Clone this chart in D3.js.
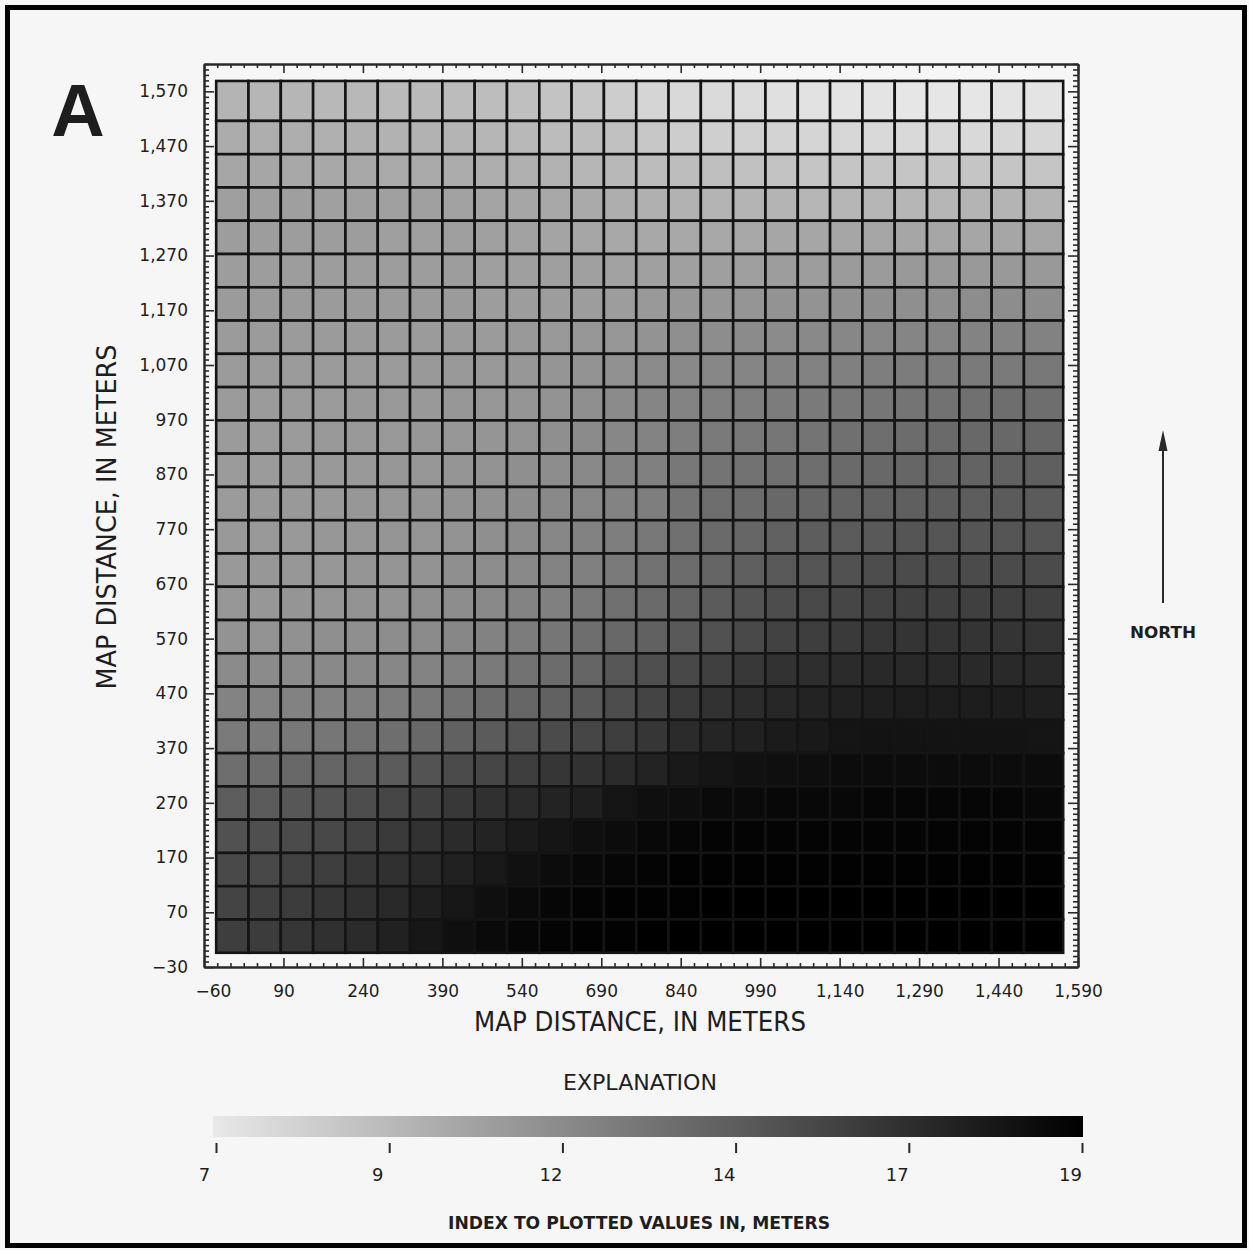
<!DOCTYPE html>
<html>
<head>
<meta charset="utf-8">
<script src="https://cdn.jsdelivr.net/npm/d3@7"></script>
<style>
  html, body { margin: 0; padding: 0; background: #f6f6f6; }
  svg { display: block; }
  text { font-family: "DejaVu Sans", "Liberation Sans", sans-serif; fill: #1e1e1e; }
</style>
</head>
<body>
<svg id="chart" width="1249" height="1250"></svg>
<script>
// ---------------- DATA ----------------
// Axis tick values (meters)
const xTickValues = [-60, 90, 240, 390, 540, 690, 840, 990, 1140, 1290, 1440, 1590];
const yTickValues = [-30, 70, 170, 270, 370, 470, 570, 670, 770, 870, 970, 1070, 1170, 1270, 1370, 1470, 1570];
// Colour index (explanation) ticks and their printed labels
const legendTickValues = [7, 9.4, 11.8, 14.2, 16.6, 19];
const legendTickLabels = ["7", "9", "12", "14", "17", "19"];
const valueDomain = [7, 19];

// Grid geometry in map meters
const gridWest = -37, cellWidth = 61, gridEast = 1562;
const gridSouth = -4, cellHeight = 60.8, gridNorth = 1589;

// Plotted values in meters; rows from north (top) to south, columns west to east
const cellValues = [
  [9.7,9.6,9.6,9.5,9.5,9.4,9.4,9.3,9.2,9.1,8.9,8.7,8.4,8.0,7.8,7.7,7.6,7.4,7.3,7.2,7.2,7.1,7.1,7.1,7.2,7.2],
  [10.1,10.0,10.0,9.9,9.9,9.8,9.8,9.7,9.6,9.5,9.3,9.2,9.0,8.7,8.4,8.3,8.2,8.1,8.0,7.9,7.8,7.8,7.8,7.8,7.9,7.9],
  [10.4,10.4,10.3,10.3,10.3,10.2,10.2,10.1,10.0,9.9,9.8,9.6,9.5,9.3,9.2,9.1,9.0,8.9,8.8,8.8,8.8,8.8,8.8,8.8,8.8,8.8],
  [10.8,10.8,10.8,10.7,10.7,10.7,10.7,10.6,10.5,10.4,10.3,10.2,10.0,9.9,9.8,9.7,9.7,9.7,9.6,9.6,9.6,9.6,9.6,9.7,9.7,9.7],
  [10.9,10.9,10.9,10.9,10.9,10.8,10.8,10.8,10.7,10.6,10.5,10.4,10.3,10.3,10.3,10.3,10.3,10.4,10.4,10.4,10.4,10.4,10.4,10.4,10.4,10.4],
  [10.9,10.9,10.9,10.9,10.9,10.9,10.9,10.9,10.8,10.8,10.8,10.7,10.6,10.7,10.7,10.8,10.8,10.9,10.9,11.0,11.0,11.1,11.1,11.1,11.1,11.1],
  [11.0,11.0,11.0,11.0,11.0,11.0,11.0,11.0,10.9,10.9,10.9,10.9,10.9,11.1,11.2,11.2,11.3,11.4,11.4,11.5,11.6,11.6,11.6,11.7,11.7,11.7],
  [11.0,11.0,11.0,11.0,11.0,11.0,11.0,11.0,11.0,11.1,11.1,11.2,11.2,11.4,11.6,11.7,11.8,11.8,11.9,12.0,12.0,12.1,12.1,12.2,12.2,12.3],
  [11.0,11.0,11.0,11.0,11.0,11.0,11.1,11.1,11.1,11.2,11.3,11.4,11.5,11.8,11.9,12.0,12.1,12.2,12.3,12.4,12.5,12.6,12.6,12.7,12.7,12.8],
  [11.0,11.0,11.0,11.0,11.1,11.1,11.1,11.2,11.2,11.3,11.4,11.6,11.8,12.1,12.2,12.4,12.5,12.6,12.7,12.8,12.9,13.0,13.1,13.2,13.3,13.3],
  [11.0,11.0,11.0,11.1,11.1,11.1,11.2,11.2,11.3,11.4,11.6,11.8,12.0,12.2,12.5,12.7,12.8,12.9,13.0,13.2,13.3,13.4,13.5,13.6,13.6,13.7],
  [11.0,11.0,11.1,11.1,11.1,11.2,11.2,11.3,11.4,11.6,11.7,11.9,12.2,12.4,12.8,13.0,13.1,13.2,13.3,13.5,13.6,13.7,13.8,13.9,14.0,14.1],
  [11.0,11.1,11.1,11.1,11.2,11.2,11.3,11.4,11.5,11.7,11.9,12.0,12.2,12.5,13.0,13.3,13.4,13.6,13.7,13.9,14.0,14.1,14.2,14.2,14.3,14.3],
  [11.1,11.1,11.1,11.2,11.2,11.3,11.3,11.4,11.6,11.8,12.0,12.3,12.5,12.8,13.2,13.5,13.7,14.0,14.2,14.3,14.4,14.6,14.6,14.6,14.6,14.6],
  [11.1,11.2,11.2,11.2,11.3,11.3,11.4,11.6,11.7,11.9,12.2,12.4,12.7,13.1,13.4,13.8,14.1,14.4,14.6,14.8,15.0,15.1,15.1,15.1,15.1,15.1],
  [11.2,11.2,11.3,11.3,11.4,11.4,11.6,11.7,11.9,12.2,12.4,12.8,13.2,13.5,13.9,14.3,14.7,15.0,15.2,15.4,15.6,15.7,15.7,15.7,15.7,15.7],
  [11.4,11.4,11.5,11.6,11.6,11.7,11.8,12.0,12.3,12.6,12.9,13.3,13.6,14.0,14.4,14.8,15.2,15.6,15.8,16.0,16.2,16.3,16.3,16.3,16.3,16.3],
  [11.8,11.8,11.8,11.9,11.9,12.0,12.2,12.4,12.7,13.1,13.4,13.8,14.5,14.9,15.3,15.7,16.1,16.4,16.6,16.8,16.9,16.9,16.9,16.9,16.9,16.9],
  [12.2,12.2,12.3,12.3,12.4,12.6,12.8,13.1,13.4,13.7,14.0,14.4,15.0,15.5,16.0,16.4,16.7,17.0,17.2,17.3,17.4,17.5,17.5,17.5,17.5,17.4],
  [12.7,12.7,12.8,12.9,13.1,13.3,13.6,14.0,14.3,14.7,15.1,15.4,15.8,16.2,16.8,17.1,17.3,17.6,17.7,17.9,18.0,18.0,18.0,18.0,18.0,17.9],
  [13.3,13.4,13.6,13.8,14.0,14.3,14.7,15.1,15.4,15.8,16.2,16.4,16.8,17.2,17.7,17.9,18.1,18.2,18.3,18.4,18.4,18.4,18.4,18.4,18.4,18.4],
  [14.2,14.3,14.5,14.7,15.0,15.4,15.7,16.1,16.5,16.8,17.2,17.4,17.9,18.2,18.3,18.5,18.5,18.6,18.6,18.6,18.7,18.7,18.7,18.7,18.7,18.6],
  [14.8,14.9,15.1,15.3,15.6,16.0,16.4,16.8,17.2,17.6,17.9,18.2,18.4,18.6,18.7,18.8,18.8,18.8,18.8,18.8,18.8,18.8,18.8,18.8,18.8,18.8],
  [15.2,15.3,15.6,15.8,16.2,16.5,16.9,17.3,17.7,18.1,18.4,18.6,18.7,18.8,18.9,18.9,18.9,18.9,18.9,18.9,18.9,18.9,18.9,18.9,18.9,18.9],
  [15.5,15.7,15.9,16.2,16.5,16.9,17.4,17.8,18.2,18.5,18.7,18.8,18.9,18.9,18.9,19.0,19.0,19.0,19.0,19.0,19.0,19.0,19.0,19.0,19.0,19.0],
  [15.8,15.9,16.2,16.5,16.8,17.3,17.8,18.2,18.5,18.7,18.8,18.9,18.9,19.0,19.0,19.0,19.0,19.0,19.0,19.0,19.0,19.0,19.0,19.0,19.0,19.0]
];

// ---------------- CHART ----------------
const svg = d3.select("#chart");
const W = 1249, H = 1250;

svg.append("rect").attr("width", W).attr("height", H).attr("fill", "#f6f6f6");
svg.append("rect").attr("x", 7.5).attr("y", 7.5).attr("width", W - 12).attr("height", H - 12)
  .attr("fill", "none").attr("stroke", "#000").attr("stroke-width", 5);

const x = d3.scaleLinear().domain([-60, 1590]).range([204, 1078]);
const y = d3.scaleLinear().domain([-30, 1620]).range([967, 64]);
const color = d3.scaleLinear().domain(valueDomain).range(["#e8e8e8", "#000000"]).clamp(true);

// Cells
const nRows = cellValues.length;
const cells = [];
cellValues.forEach((row, r) => {
  const k = nRows - 1 - r; // index from south
  const y0 = gridSouth + k * cellHeight;
  const y1 = (r === 0) ? gridNorth : gridSouth + (k + 1) * cellHeight;
  row.forEach((v, c) => {
    const x0 = gridWest + c * cellWidth;
    const x1 = (c === row.length - 1) ? gridEast : gridWest + (c + 1) * cellWidth;
    cells.push({ v, x0, x1, y0, y1 });
  });
});

svg.append("g").selectAll("rect").data(cells).join("rect")
  .attr("x", d => x(d.x0))
  .attr("y", d => y(d.y1))
  .attr("width", d => x(d.x1) - x(d.x0))
  .attr("height", d => y(d.y0) - y(d.y1))
  .attr("fill", d => color(d.v))
  .attr("stroke", "#141414")
  .attr("stroke-width", 2.6);

// Axes frame with inward ticks
const fmt = d3.format(",");
const xMinor = d3.range(-60, 1591, 25).filter(v => !xTickValues.includes(v));
const yMinor = d3.range(-30, 1621, 10).filter(v => !yTickValues.includes(v));

function styleAxis(g) {
  g.selectAll("path.domain").attr("stroke", "#2a2a2a").attr("stroke-width", 2);
  g.selectAll(".tick line").attr("stroke", "#2a2a2a").attr("stroke-width", 1.6);
}

// bottom
svg.append("g").attr("transform", `translate(0,${y(-30)})`)
  .call(d3.axisTop(x).tickValues(xTickValues).tickSize(9).tickSizeOuter(0).tickFormat(""))
  .call(styleAxis);
svg.append("g").attr("transform", `translate(0,${y(-30)})`)
  .call(d3.axisTop(x).tickValues(xMinor).tickSize(4).tickSizeOuter(0).tickFormat(""))
  .call(styleAxis);
// top
svg.append("g").attr("transform", `translate(0,${y(1620)})`)
  .call(d3.axisBottom(x).tickValues(xTickValues).tickSize(9).tickSizeOuter(0).tickFormat(""))
  .call(styleAxis);
svg.append("g").attr("transform", `translate(0,${y(1620)})`)
  .call(d3.axisBottom(x).tickValues(xMinor).tickSize(4).tickSizeOuter(0).tickFormat(""))
  .call(styleAxis);
// left
svg.append("g").attr("transform", `translate(${x(-60)},0)`)
  .call(d3.axisRight(y).tickValues(yTickValues).tickSize(10).tickSizeOuter(0).tickFormat(""))
  .call(styleAxis);
svg.append("g").attr("transform", `translate(${x(-60)},0)`)
  .call(d3.axisRight(y).tickValues(yMinor).tickSize(5).tickSizeOuter(0).tickFormat(""))
  .call(styleAxis);
// right
svg.append("g").attr("transform", `translate(${x(1590)},0)`)
  .call(d3.axisLeft(y).tickValues(yTickValues).tickSize(10).tickSizeOuter(0).tickFormat(""))
  .call(styleAxis);
svg.append("g").attr("transform", `translate(${x(1590)},0)`)
  .call(d3.axisLeft(y).tickValues(yMinor).tickSize(5).tickSizeOuter(0).tickFormat(""))
  .call(styleAxis);

// tick labels
const xLab = svg.append("g").attr("transform", `translate(0,${y(-30)})`)
  .call(d3.axisBottom(x).tickValues(xTickValues).tickSize(0).tickPadding(18).tickFormat(fmt));
xLab.select("path.domain").remove();
xLab.selectAll("text").attr("font-size", 17).attr("fill", "#1e1e1e")
  .attr("dx", d => d < 0 ? 9 : 0)
  .style("font-family", '"DejaVu Sans", sans-serif');

const yLab = svg.append("g").attr("transform", `translate(${x(-60)},0)`)
  .call(d3.axisLeft(y).tickValues(yTickValues).tickSize(0).tickPadding(16).tickFormat(fmt));
yLab.select("path.domain").remove();
yLab.selectAll("text").attr("font-size", 17).attr("fill", "#1e1e1e")
  .style("font-family", '"DejaVu Sans", sans-serif');

// Axis titles
svg.append("text").attr("x", 640).attr("y", 1031).attr("text-anchor", "middle")
  .attr("font-size", 26).attr("textLength", 332).attr("lengthAdjust", "spacingAndGlyphs")
  .text("MAP DISTANCE, IN METERS");
svg.append("text").attr("transform", "translate(116,517) rotate(-90)").attr("text-anchor", "middle")
  .attr("font-size", 26).attr("textLength", 345).attr("lengthAdjust", "spacingAndGlyphs")
  .text("MAP DISTANCE, IN METERS");

// Panel letter
svg.append("text").attr("x", 78).attr("y", 136).attr("text-anchor", "middle")
  .attr("font-size", 74).attr("font-weight", "bold")
  .style("font-family", '"Liberation Sans", Arial, sans-serif').attr("fill", "#111")
  .text("A");

// North arrow
svg.append("line").attr("x1", 1163).attr("x2", 1163).attr("y1", 603).attr("y2", 446)
  .attr("stroke", "#2a2a2a").attr("stroke-width", 2);
svg.append("path").attr("d", "M1163,430 L1158.5,451 L1167.5,451 Z").attr("fill", "#2a2a2a");
svg.append("text").attr("x", 1163).attr("y", 638).attr("text-anchor", "middle")
  .attr("font-size", 16).attr("font-weight", "bold").attr("textLength", 66)
  .attr("lengthAdjust", "spacingAndGlyphs").text("NORTH");

// Explanation / colour bar
svg.append("text").attr("x", 640).attr("y", 1090).attr("text-anchor", "middle")
  .attr("font-size", 22).attr("textLength", 154).attr("lengthAdjust", "spacingAndGlyphs")
  .text("EXPLANATION");

const cx = d3.scaleLinear().domain(valueDomain).range([216, 1082]);
const defs = svg.append("defs");
const grad = defs.append("linearGradient").attr("id", "cbar").attr("x1", "0%").attr("x2", "100%");
d3.range(0, 1.0001, 0.1).forEach(t => {
  const v = valueDomain[0] + t * (valueDomain[1] - valueDomain[0]);
  grad.append("stop").attr("offset", `${t * 100}%`).attr("stop-color", color(v));
});
svg.append("rect").attr("x", cx(7) - 3).attr("y", 1116).attr("width", cx(19) - cx(7) + 4).attr("height", 21)
  .attr("fill", "url(#cbar)");

const cAxis = svg.append("g").attr("transform", "translate(0,1143)")
  .call(d3.axisBottom(cx).tickValues(legendTickValues).tickSize(10).tickPadding(15)
    .tickFormat((d, i) => legendTickLabels[i]));
cAxis.select("path.domain").remove();
cAxis.selectAll(".tick line").attr("stroke", "#2a2a2a").attr("stroke-width", 2);
cAxis.selectAll("text").attr("font-size", 18).attr("fill", "#1e1e1e").attr("dx", -12)
  .style("font-family", '"DejaVu Sans", sans-serif');

svg.append("text").attr("x", 639).attr("y", 1229).attr("text-anchor", "middle")
  .attr("font-size", 18).attr("font-weight", "bold").attr("textLength", 382)
  .attr("lengthAdjust", "spacingAndGlyphs").attr("fill", "#2a2a2a")
  .text("INDEX TO PLOTTED VALUES IN, METERS");
</script>
</body>
</html>
